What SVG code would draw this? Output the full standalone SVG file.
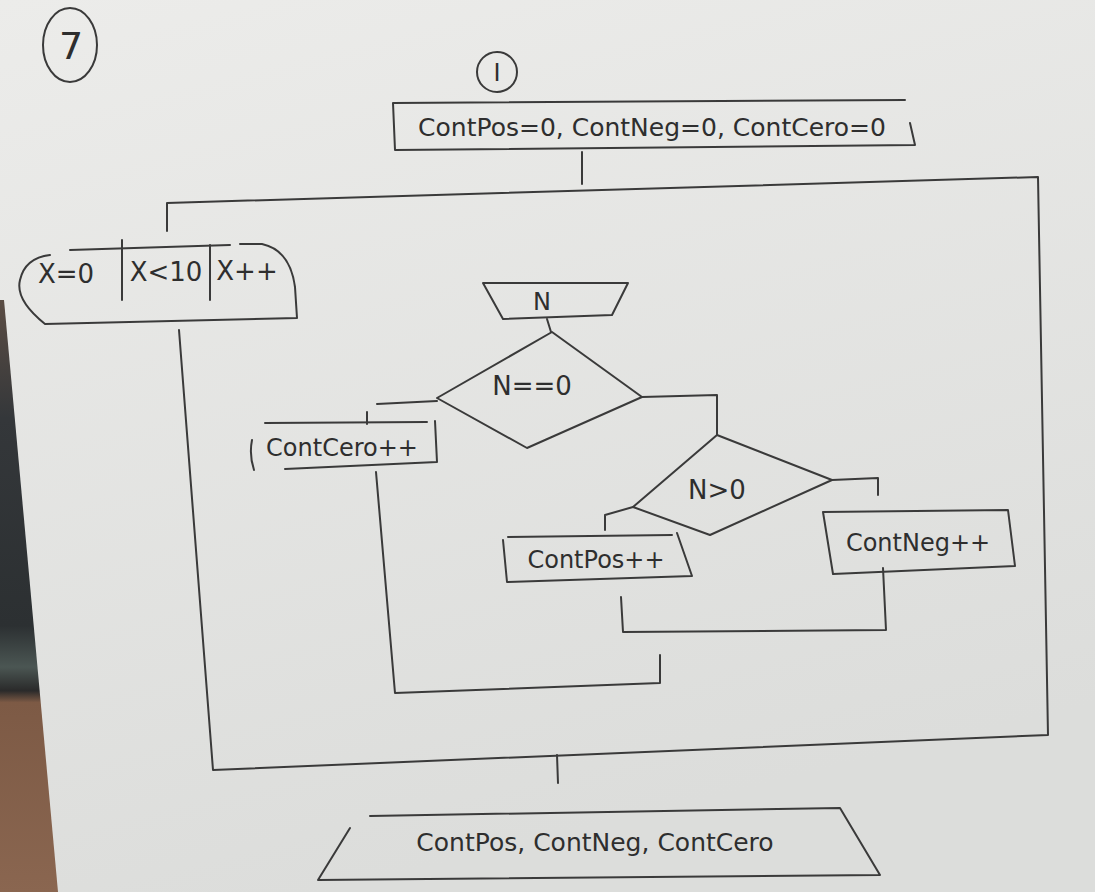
<svg xmlns="http://www.w3.org/2000/svg" width="1095" height="892" viewBox="0 0 1095 892">
<defs>
<linearGradient id="paper" x1="0" y1="0" x2="0.3" y2="1">
<stop offset="0" stop-color="#ececea"/>
<stop offset="1" stop-color="#dcdddb"/>
</linearGradient>
<linearGradient id="edge" x1="0" y1="0" x2="0" y2="1">
<stop offset="0" stop-color="#5b4d44"/>
<stop offset="0.2" stop-color="#34373a"/>
<stop offset="0.55" stop-color="#2c3032"/>
<stop offset="0.62" stop-color="#4b5653"/>
<stop offset="0.66" stop-color="#2a2a2a"/>
<stop offset="0.68" stop-color="#7d5a45"/>
<stop offset="1" stop-color="#8a6650"/>
</linearGradient>
<style>
.ln{fill:none;stroke:#3a3a3a;stroke-width:2;stroke-linecap:round;stroke-linejoin:round}
.tx{font-family:"DejaVu Sans","Liberation Sans",sans-serif;fill:#2e2e2e;text-anchor:middle;dominant-baseline:central}
</style>
</defs>
<rect width="1095" height="892" fill="url(#paper)"/>
<polygon points="0,300 4,300 58,892 0,892" fill="url(#edge)"/>

<g id="label7">
<ellipse cx="70" cy="45" rx="27" ry="37" class="ln"/>
<text x="71" y="46" class="tx" font-size="38">7</text>
</g>

<g id="start">
<circle cx="497" cy="72" r="20" class="ln"/>
<text x="497" y="73" class="tx" font-size="24">I</text>
</g>

<g id="init">
<path d="M393,103 L905,100 M393,103 L395,150 L915,145 L910,123" class="ln"/>
<text x="652" y="127" class="tx" font-size="25">ContPos=0, ContNeg=0, ContCero=0</text>
</g>

<g id="loop">
<path d="M70,250 L230,245 M240,244 L262,244 Q290,250 295,287 L297,318 L45,324 Q15,300 20,280 Q25,258 50,255" class="ln"/>
<path d="M122,240 L122,300 M210,245 L210,300" class="ln"/>
<text x="66" y="274" class="tx" font-size="26">X=0</text>
<text x="166" y="272" class="tx" font-size="26">X&lt;10</text>
<text x="247" y="271" class="tx" font-size="26">X++</text>
</g>

<g id="readN">
<polygon points="483,283 628,283 612,315 503,319" class="ln"/>
<text x="542" y="302" class="tx" font-size="24">N</text>
</g>

<g id="dec1">
<polygon points="552,332 642,397 527,448 437,398" class="ln"/>
<text x="532" y="386" class="tx" font-size="26">N==0</text>
</g>

<g id="contCero">
<path d="M265,423 L427,422 M435,421 L437,462 L285,469 M252,440 Q249,455 254,470" class="ln"/>
<text x="342" y="448" class="tx" font-size="24">ContCero++</text>
</g>

<g id="dec2">
<polygon points="717,435 832,480 710,535 633,507" class="ln"/>
<text x="717" y="490" class="tx" font-size="26">N&gt;0</text>
</g>

<g id="contPos">
<path d="M508,537 L672,535 M677,533 L692,576 L507,582 L503,540" class="ln"/>
<text x="596" y="560" class="tx" font-size="24">ContPos++</text>
</g>

<g id="contNeg">
<path d="M823,512 L1008,510 L1015,566 L833,574 L823,512" class="ln"/>
<text x="918" y="543" class="tx" font-size="24">ContNeg++</text>
</g>

<g id="output">
<path d="M370,816 L840,808 L880,875 L318,880 L350,828" class="ln"/>
<text x="595" y="842" class="tx" font-size="25">ContPos, ContNeg, ContCero</text>
</g>

<g id="connectors">
<path d="M582,152 L582,184" class="ln"/>
<path d="M167,231 L167,203 L1038,177 L1048,735 L213,770 L179,330" class="ln"/>
<path d="M547,319 L551,332" class="ln"/>
<path d="M437,401 L377,404 M367,412 L367,424" class="ln"/>
<path d="M642,397 L717,395 L717,435" class="ln"/>
<path d="M633,507 L605,515 L605,530" class="ln"/>
<path d="M832,480 L878,478 L878,495" class="ln"/>
<path d="M376,472 L395,693 L660,683 L660,655" class="ln"/>
<path d="M621,597 L623,632 L886,630 L883,568" class="ln"/>
<path d="M557,755 L558,783" class="ln"/>
</g>
</svg>
